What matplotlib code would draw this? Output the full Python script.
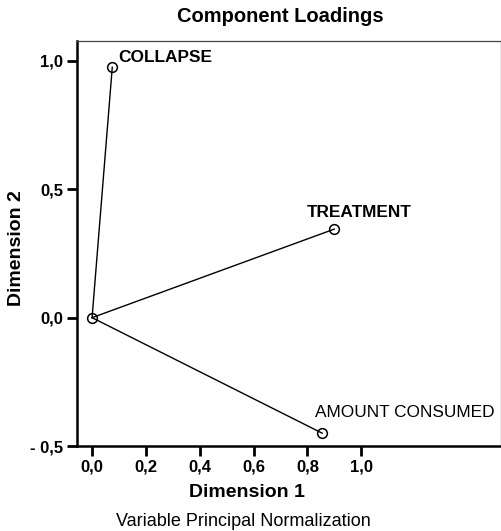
import matplotlib
matplotlib.use('Agg')
import matplotlib.pyplot as plt

plt.rcParams['font.family'] = ['Liberation Sans', 'DejaVu Sans']

# Component loadings
variables = ['COLLAPSE', 'TREATMENT', 'AMOUNT CONSUMED']
dim1 = [0.075, 0.90, 0.855]
dim2 = [0.975, 0.345, -0.45]
label_weight = ['bold', 'bold', 'normal']

xticks = [0.0, 0.2, 0.4, 0.6, 0.8, 1.0]
yticks = [-0.5, 0.0, 0.5, 1.0]

fig = plt.figure(figsize=(5.02, 5.31), dpi=100)
ax = fig.add_axes([0.1534, 0.160, 0.845, 0.763])

# vectors from the origin
for x, y in zip(dim1, dim2):
    ax.plot([0, x], [0, y], color='black', lw=1.0, zorder=2)

ax.plot([0] + dim1, [0] + dim2, 'o', ms=7, mfc='none', mec='black',
        mew=1.1, linestyle='none', zorder=3)

# label offsets in pixels from each point
offsets = [(6, 10), (-28, 17), (-7, 21)]
for name, x, y, w, off in zip(variables, dim1, dim2, label_weight, offsets):
    ax.annotate(name, (x, y), xytext=off, textcoords='offset pixels',
                fontsize=12.4, fontweight=w, ha='left', va='center')

ax.set_xlim(-0.056, 1.52)
ax.set_ylim(-0.5, 1.078)

ax.set_xticks(xticks)
ax.set_xticklabels(['{:.1f}'.format(t).replace('.', ',') for t in xticks])
ax.set_yticks(yticks)
ax.set_yticklabels(['- 0,5' if t < 0 else '{:.1f}'.format(t).replace('.', ',')
                    for t in yticks])

ax.tick_params(direction='out', length=7, width=2, labelsize=12, pad=3)
for lab in ax.get_xticklabels() + ax.get_yticklabels():
    lab.set_fontweight('bold')

for side in ['left', 'bottom']:
    ax.spines[side].set_linewidth(1.8)
for side in ['top', 'right']:
    ax.spines[side].set_linewidth(0.9)
    ax.spines[side].set_color('#444444')

fig.text(0.558, 0.968, 'Component Loadings', fontsize=14.5,
         fontweight='bold', ha='center', va='center')
fig.text(0.492, 0.0716, 'Dimension 1', fontsize=14, fontweight='bold',
         ha='center', va='center')
fig.text(0.032, 0.533, 'Dimension 2', fontsize=14, fontweight='bold',
         ha='center', va='center', rotation=90)
fig.text(0.484, 0.017, 'Variable Principal Normalization', fontsize=13,
         ha='center', va='center')

fig.savefig('out.png', dpi=100, facecolor='white')
